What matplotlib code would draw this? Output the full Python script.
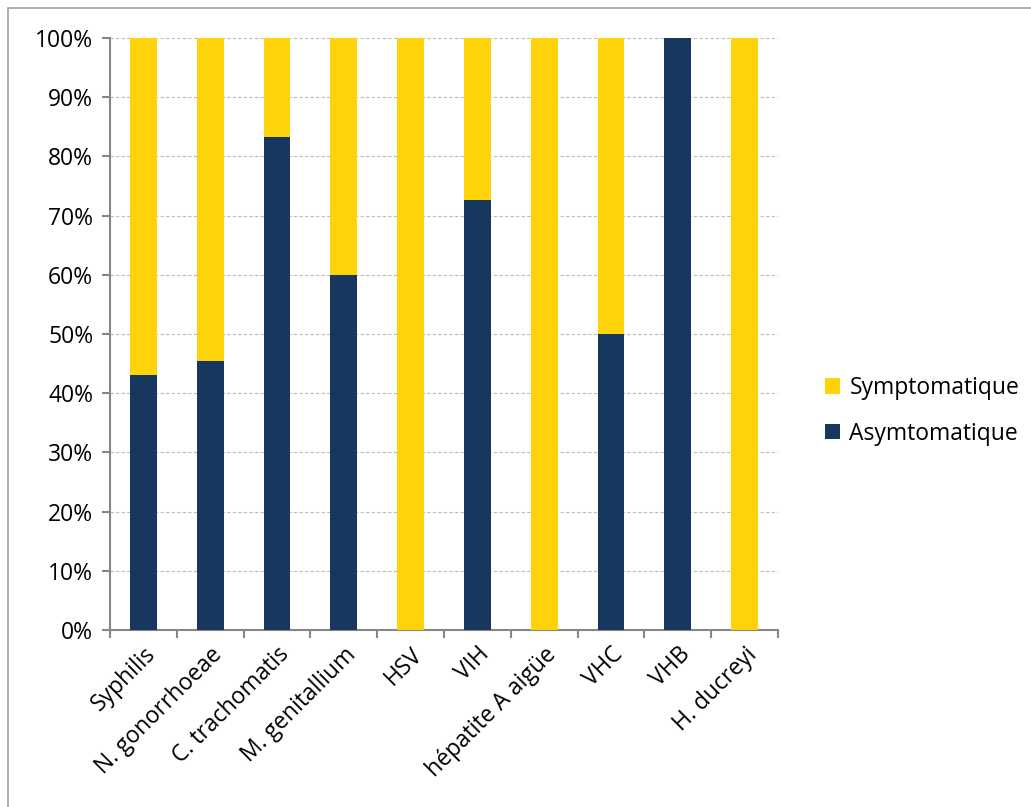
import matplotlib
matplotlib.use("Agg")
import matplotlib.pyplot as plt
from matplotlib.patches import Rectangle
from matplotlib.ticker import PercentFormatter

categories = ["Syphilis", "N. gonorrhoeae", "C. trachomatis", "M. genitallium", "HSV",
              "VIH", "hépatite A aigüe", "VHC", "VHB", "H. ducreyi"]
asymptomatique = [43.1, 45.5, 83.3, 60.0, 0.0, 72.7, 0.0, 50.0, 100.0, 0.0]
symptomatique = [100 - v for v in asymptomatique]

plt.rcParams['font.family'] = ['Open Sans', 'DejaVu Sans']

fig = plt.figure(figsize=(10.31, 8.07), dpi=100)
ax = fig.add_axes([0.1067, 0.2193, 0.6479, 0.7336])

x = list(range(len(categories)))
b1 = ax.bar(x, asymptomatique, width=0.4, color="#17375E", label="Asymtomatique", zorder=3)
b2 = ax.bar(x, symptomatique, width=0.4, bottom=asymptomatique, color="#FFD309",
            label="Symptomatique", zorder=3)

ax.set_xlim(-0.5, len(categories) - 0.5)
ax.set_ylim(0, 100)
ax.set_yticks(range(0, 101, 10))
ax.yaxis.set_major_formatter(PercentFormatter(decimals=0))
ax.yaxis.grid(True, linestyle=(0, (3, 2)), color="#BBBBBB", linewidth=0.8, zorder=0)

ax.set_xticks([i - 0.5 for i in range(len(categories) + 1)])
ax.set_xticklabels([])
ax.set_xticks(x, minor=True)
ax.set_xticklabels(categories, minor=True, rotation=45, ha="right", rotation_mode="anchor",
                   fontsize=16.5)
ax.tick_params(axis="x", which="minor", length=0, pad=9)
ax.tick_params(axis="x", which="major", length=6, color="#868686", width=1.5, direction="out")
ax.tick_params(axis="y", length=6, color="#868686", width=1.5, labelsize=16.5, pad=6)

for s in ["top", "right"]:
    ax.spines[s].set_visible(False)
for s in ["left", "bottom"]:
    ax.spines[s].set_color("#868686")
    ax.spines[s].set_linewidth(1.5)

handles = [b2, b1]
ax.legend(handles, ["Symptomatique", "Asymtomatique"], loc="center left",
          bbox_to_anchor=(1.04, 0.37), frameon=False, fontsize=16.5,
          handlelength=0.65, handleheight=0.65, labelspacing=0.95, handletextpad=0.4)

fig.patches.append(Rectangle((8 / 1031, -0.1), 1.2, 1.1 - 8 / 807, transform=fig.transFigure,
                             fill=False, edgecolor="#A0A0A0", linewidth=1.2))

fig.savefig("out.png", dpi=100)
